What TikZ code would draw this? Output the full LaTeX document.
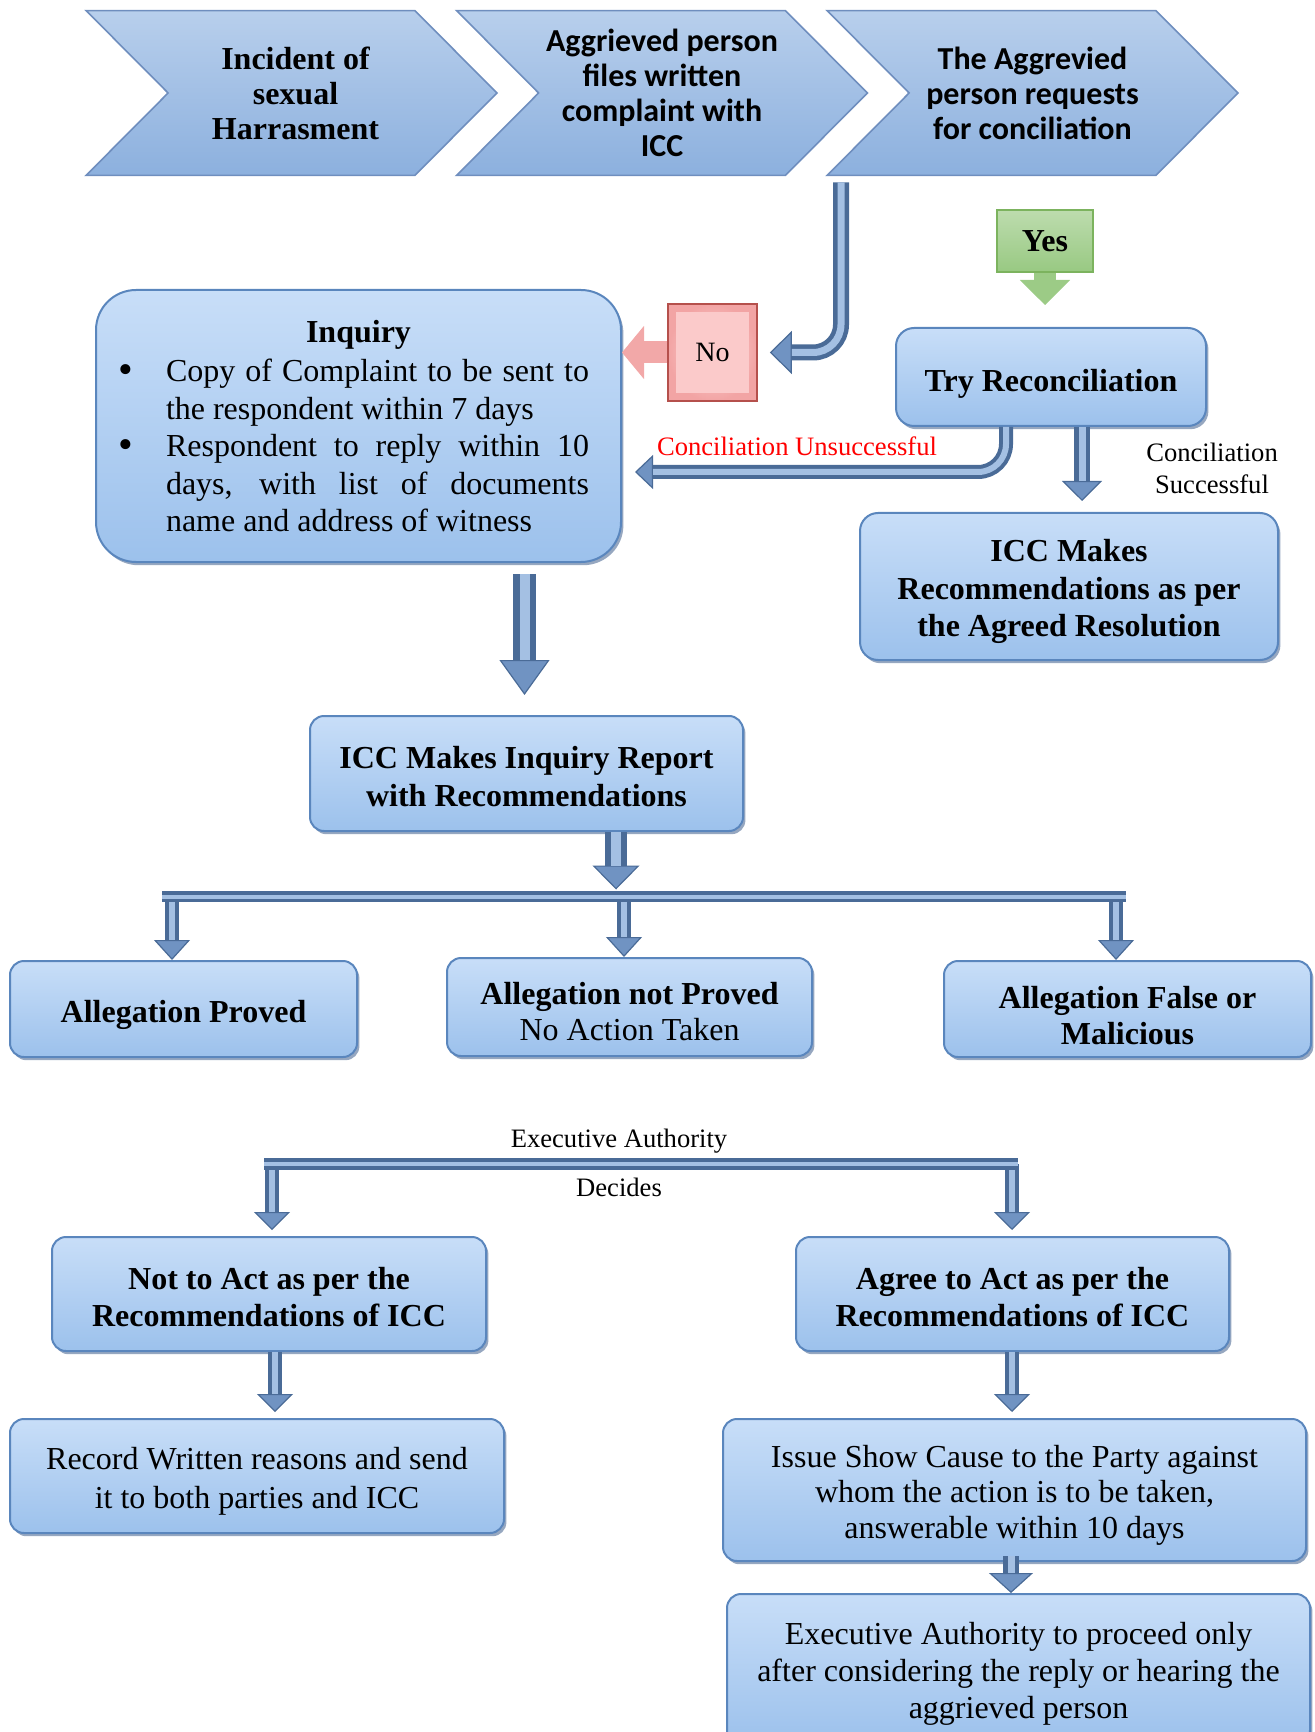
\documentclass[tikz,border=0pt]{standalone}
\usepackage{fontspec}
\setmainfont{Liberation Serif}
\newfontfamily\calib{Carlito}
\usetikzlibrary{arrows.meta,calc,shadows,backgrounds}
\definecolor{boxtop}{HTML}{C8DEF8}
\definecolor{boxbot}{HTML}{9CC1EC}
\definecolor{boxedge}{HTML}{5A86BD}
\definecolor{boxshade}{HTML}{3F5F8C}
\definecolor{chtop}{HTML}{B8CFEC}
\definecolor{chbot}{HTML}{8CB0DE}
\definecolor{chedge}{HTML}{6F8EBE}
\definecolor{pipeedge}{HTML}{4A6B97}
\definecolor{pipelight}{HTML}{A4C0E3}
\definecolor{pipehead}{HTML}{7093C2}
\definecolor{noin}{HTML}{FDD6D6}
\definecolor{noout}{HTML}{F2A4A4}
\definecolor{noface}{HTML}{FBCACA}
\definecolor{noedge}{HTML}{B5504C}
\definecolor{noarrowc}{HTML}{F2A8A8}
\definecolor{yestop}{HTML}{BDDCAE}
\definecolor{yesbot}{HTML}{98C982}
\definecolor{yesedge}{HTML}{7CB35E}
\definecolor{yesarrowc}{HTML}{9CCB86}
\newcommand\fbody{\fontsize{16}{18.75}\selectfont}
\newcommand\fsmall{\fontsize{13.3}{16}\selectfont}
\newcommand\parset{\leftskip=-2pt\rightskip=2pt\hangindent=23pt\hangafter=0 \hyphenpenalty=10000 \exhyphenpenalty=10000 \parfillskip=0pt plus 1fil\relax}
\newcommand\bigbullet{\llap{\raisebox{-0.8pt}{\fontsize{21}{0}\selectfont\textbullet}\hskip16.3pt}}
\begin{document}
\begin{tikzpicture}[x=0.5pt,y=-0.5pt,
  box/.style={rounded corners=7pt, draw=boxedge, line width=1pt, top color=boxtop, bottom color=boxbot, align=center, inner sep=0pt, font=\fbody, drop shadow={shadow xshift=1.2pt, shadow yshift=-1.6pt, fill=boxshade, opacity=0.55}},
  boxtext/.style={yshift=-2.5pt, align=center, inner sep=0pt, font=\fbody},
  bboxtext/.style={boxtext, font=\fbody\bfseries},
  chevnode/.style={minimum width=205pt, minimum height=82pt, inner sep=0pt, align=center, font=\fontsize{16}{17.5}\selectfont\bfseries},
  chev/.style={draw=chedge, line width=0.8pt, top color=chtop, bottom color=chbot},
  lbl/.style={font=\fsmall, align=center, inner sep=0pt},
  pipe/.style n args={4}{draw=pipeedge, line width=#1, -{Triangle[length=#2, width=#3, line width=0.6pt, fill=pipehead]}, postaction={draw=pipelight, line width=#4, -, shorten >=#2}},
  bar/.style 2 args={draw=pipeedge, line width=#1, postaction={draw=pipelight, line width=#2}},
  block/.style n args={4}{draw=#1, line width=#2, -{Triangle[length=#3, width=#4, line width=0.5pt, fill=#1]}},
]
\useasboundingbox (0,0) rectangle (1314,1732);
\clip (0,0) rectangle (1314,1732);

% chevrons
\node[chevnode] (c1) at (291.5,93) {\hspace*{4pt}Incident of\\\hspace*{4pt}sexual\\\hspace*{4pt}Harrasment};
\node[chevnode, font=\fontsize{16}{17.5}\selectfont\calib\bfseries] (c2) at (662,93) {Aggrieved person\\files written\\complaint with\\ICC};
\node[chevnode, font=\fontsize{16}{17.5}\selectfont\calib\bfseries] (c3) at (1032.5,93) {The Aggrevied\\person requests\\for conciliation};
\begin{scope}[on background layer]
\foreach \c in {c1,c2,c3}
  \path[chev] (\c.north west) -- ($(\c.north east)+(-82,0)$) -- (\c.east) -- ($(\c.south east)+(-82,0)$) -- (\c.south west) -- ($(\c.west)+(82,0)$) -- cycle;
\end{scope}

% inquiry box
\node[box, rounded corners=20pt, minimum width=262.5pt, minimum height=136pt, text width=234.5pt, align=justify] (inq) at (358.5,426) {\parindent=0pt
{\centering\bfseries Inquiry\par}
\vspace{1pt}
\noindent\bigbullet Copy of Complaint to be sent to the respondent within 7 days\parset\par
\noindent\bigbullet Respondent to reply within 10 days, with list of documents name and address of witness\parset\par};

% No / Yes
\node[draw=noedge, line width=0.8pt, inner color=noin, outer color=noout, minimum width=44.5pt, minimum height=48.5pt, inner sep=0pt, font=\fontsize{14}{16}\selectfont,
  path picture={\fill[noface] ([shift={(4pt,-4pt)}]path picture bounding box.north west) rectangle ([shift={(-4pt,4pt)}]path picture bounding box.south east);}] (no) at (712.5,352.5) {No};
\node[draw=yesedge, line width=0.8pt, top color=yestop, bottom color=yesbot, minimum width=48pt, minimum height=31pt, inner sep=0pt, font=\fbody\bfseries] (yes) at (1045,241) {Yes};

% boxes
\node[box, rounded corners=9pt, minimum width=155pt, minimum height=49pt, label={[bboxtext, yshift=-1pt]center:Try Reconciliation}] (try) at (1051,377) {};
\node[box, rounded corners=9pt, minimum width=209pt, minimum height=73.5pt, label={[bboxtext]center:{ICC Makes\\Recommendations as per\\the Agreed Resolution}}] (rec) at (1069,586.5) {};
\node[box, minimum width=216.5pt, minimum height=57.5pt, label={[bboxtext, yshift=1pt]center:{ICC Makes Inquiry Report\\with Recommendations}}] (rep) at (526.5,773.5) {};
\node[box, minimum width=173.5pt, minimum height=48pt, label={[bboxtext, yshift=-0.5pt]center:Allegation Proved}] (ap) at (183.5,1009) {};
\node[box, minimum width=182.5pt, minimum height=49pt, label={[boxtext, font=\fontsize{16}{18}\selectfont]center:{{\bfseries Allegation not Proved}\\No Action Taken}}] (anp) at (629.5,1007) {};
\node[box, minimum width=183.5pt, minimum height=48pt, label={[bboxtext, yshift=-1pt, font=\fontsize{16}{18}\selectfont\bfseries]center:{Allegation False or\\Malicious}}] (af) at (1127.5,1009) {};
\node[box, minimum width=217pt, minimum height=57pt, label={[bboxtext, yshift=1pt]center:{Not to Act as per the\\Recommendations of ICC}}] (nta) at (269,1294) {};
\node[box, minimum width=216.5pt, minimum height=57pt, label={[bboxtext, yshift=1pt]center:{Agree to Act as per the\\Recommendations of ICC}}] (agr) at (1012.5,1294) {};
\node[box, minimum width=247pt, minimum height=57pt, label={[boxtext, font=\fontsize{16}{19.5}\selectfont]center:{Record Written reasons and send\\it to both parties and ICC}}] (rw) at (257,1476) {};
\node[box, minimum width=291.5pt, minimum height=71pt, label={[boxtext, font=\fontsize{16}{17.75}\selectfont]center:{Issue Show Cause to the Party against\\whom the action is to be taken,\\answerable within 10 days}}] (isc) at (1014.5,1490) {};
\node[box, minimum width=291.5pt, minimum height=75pt, label={[boxtext, font=\fontsize{16}{18.5}\selectfont]center:{Executive Authority to proceed only\\after considering the reply or hearing the\\aggrieved person}}] (exa) at (1018.5,1669) {};

% labels
\node[lbl, text=red] (cu) at (797,446) {Conciliation Unsuccessful};
\node[lbl] (cs) at (1212,468) {Conciliation\\Successful};
\node[lbl] (ea) at (619,1141) {Executive Authority};
\node[lbl] (dec) at (619,1187) {Decides};

% connectors
\coordinate (s3) at ($(c3.south)+(-191.5,7)$);
\draw[pipe={8pt}{11pt}{21.5pt}{3.5pt}, rounded corners=14pt] (s3) |- ($(no.east)+(12,0)$);
\draw[block={noarrowc}{11pt}{11pt}{26.5pt}] (no.west) -- (no.west -| inq.east);
\draw[block={yesarrowc}{11pt}{12.5pt}{25pt}] (yes.south) -- ($(yes.south |- try.north)+(0,-22)$);

\coordinate (t1) at ($(try.south)+(-45,0)$);
\draw[pipe={7pt}{9pt}{17pt}{3pt}, rounded corners=14pt] (t1) |- ($(inq.east)+(13,46)$);
\draw[pipe={8pt}{10pt}{20pt}{3.5pt}] ($(try.south)+(31,0)$) -- ($(rec.north)+(13,-11)$);

\draw[pipe={11.5pt}{17.5pt}{25pt}{5pt}] ($(inq.south)+(166,11)$) -- ($(rep.north)+(-2,-20)$);

\coordinate (bl) at (162,896.5);
\coordinate (br) at (1126,896.5);
\coordinate (j1) at (172,896.5);
\coordinate (j2) at (624,896.5);
\coordinate (j3) at (1116,896.5);
\coordinate (jr) at (616,896.5);
\draw[pipe={7pt}{10pt}{18pt}{3pt}] (j1) -- (j1 |- ap.north);
\draw[pipe={7pt}{10pt}{18pt}{3pt}] (j2) -- (j2 |- anp.north);
\draw[pipe={7pt}{10pt}{18pt}{3pt}] (j3) -- (j3 |- af.north);
\draw[bar={5.5pt}{2pt}] (bl) -- (br);
\draw[pipe={11pt}{12pt}{23.5pt}{5pt}] (jr |- rep.south) -- ($(jr)+(0,-7)$);

\coordinate (el) at (264,1164);
\coordinate (er) at (1018,1164);
\coordinate (k1) at (272,1164);
\coordinate (k2) at (1012,1164);
\draw[pipe={7pt}{9pt}{18pt}{3pt}] (k1) -- ($(k1 |- nta.north)+(0,-6)$);
\draw[pipe={7pt}{9pt}{18pt}{3pt}] (k2) -- ($(k2 |- agr.north)+(0,-6)$);
\draw[bar={6pt}{2.2pt}] (el) -- (er);

\draw[pipe={7pt}{9pt}{18pt}{3pt}] ($(nta.south)+(6,0)$) -- ($(rw.north)+(18,-6)$);
\draw[pipe={7pt}{9pt}{18pt}{3pt}] ($(agr.south)+(-0.5,0)$) -- ($(isc.north)+(-2.5,-6)$);
\draw[pipe={8pt}{10pt}{22pt}{3.5pt}] ($(isc.south)+(-3.5,-6)$) -- ($(exa.north)+(-7.5,0)$);
\end{tikzpicture}
\end{document}
